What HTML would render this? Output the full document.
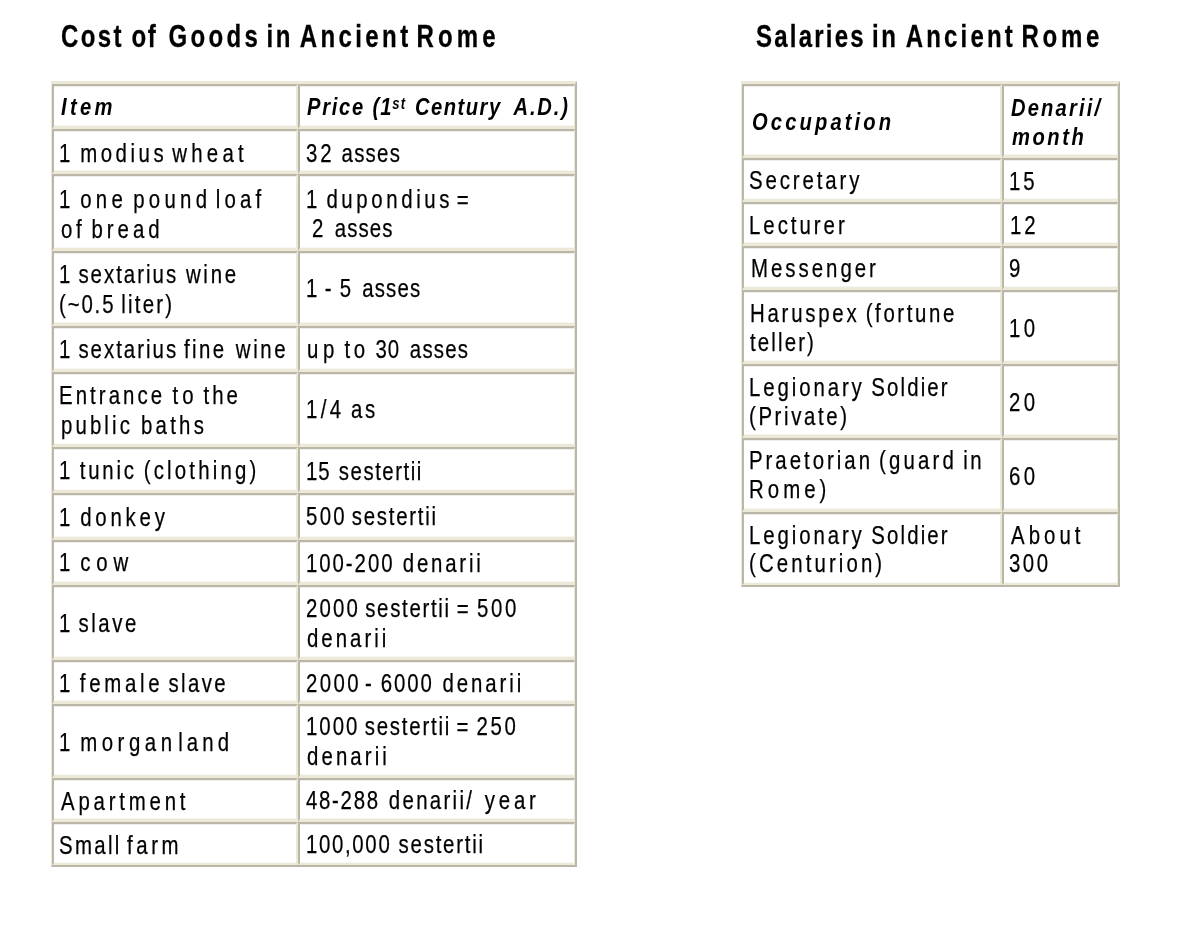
<!DOCTYPE html>
<html lang="en"><head><meta charset="utf-8"><title>Cost of Goods and Salaries in Ancient Rome</title>
<style>
html,body{margin:0;padding:0;background:#fff}
#page{position:relative;width:1193px;height:928px;overflow:hidden;background:#fff;color:#000;
  font-family:"Liberation Sans",Arial,Helvetica,sans-serif}
h1{margin:0;font-size:inherit;font-weight:inherit}
table.g{float:left;border-collapse:separate;border-spacing:0;table-layout:fixed;
  border-style:solid;border-color:#ECE9D8 #BAB6A8 #BAB6A8 #ECE9D8;border-top-width:3px;border-bottom-width:2px}
table.g td,table.g th{box-sizing:border-box;padding:0;border-style:solid;line-height:0;font-size:0;
  border-color:#BAB6A8 #ECE9D8 #ECE9D8 #BAB6A8;border-width:2px 2px 3px 2px;background:#fff;
  box-shadow:inset 0 -1px 0 #F8F7F1,inset 0 1px 0 #EFEEE9;text-align:left;font-weight:normal}
table.g tr.last td{border-bottom-width:2px}
.t{position:absolute;margin:0;white-space:nowrap;font-size:25.5px;line-height:30px;font-weight:normal;letter-spacing:0;
  transform:scaleX(0.8);transform-origin:0 0;-webkit-text-stroke:0.25px #000;filter:blur(0.35px)}
.t.h{font-size:24px;font-weight:bold;font-style:italic;transform:scaleX(0.84);-webkit-text-stroke:0}
.t.ttl{font-size:32px;line-height:36px;font-weight:bold;transform:scaleX(0.75);-webkit-text-stroke:0.3px #000}
.t sup{font-size:65%;vertical-align:baseline;position:relative;top:-0.37em;line-height:0}
</style></head>
<body><div id="page">
<h1><span class="t ttl" style="left:60.83px;top:17.91px"><span class="w" style="letter-spacing:3.16px">Cost</span> <span class="w" style="letter-spacing:2.17px;margin-left:1.38px">of</span> <span class="w" style="letter-spacing:4.48px;margin-left:5.84px">Goods</span> <span class="w" style="letter-spacing:3.47px;margin-left:-1.81px">in</span> <span class="w" style="letter-spacing:4.53px;margin-left:-0.05px">Ancient</span> <span class="w" style="letter-spacing:5.48px;margin-left:-2.32px">Rome</span></span></h1>
<h1><span class="t ttl" style="left:755.53px;top:17.91px"><span class="w" style="letter-spacing:2.95px">Salaries</span> <span class="w" style="letter-spacing:3.22px;margin-left:-0.54px">in</span> <span class="w" style="letter-spacing:4.24px;margin-left:1.15px">Ancient</span> <span class="w" style="letter-spacing:4.94px;margin-left:-1.49px">Rome</span></span></h1>
<table class="g" cellspacing="0" cellpadding="0" style="margin-left:51px;margin-top:81px;border-left-width:1px;border-right-width:2px">
<colgroup><col style="width:246px"><col style="width:277px"></colgroup>
<tr style="height:45px">
<th style="border-right-width:2px"><span class="t h" style="left:60.56px;top:91.68px"><span class="w" style="letter-spacing:3.98px">Item</span></span></th>
<th style="border-right-width:1px"><span class="t h" style="left:306.66px;top:91.68px"><span class="w" style="letter-spacing:2.02px">Price</span> <span class="w" style="letter-spacing:1.18px;margin-left:2.43px">(1<sup>st</sup></span> <span class="w" style="letter-spacing:1.79px;margin-left:3.94px">Century</span> <span class="w" style="letter-spacing:2.20px;margin-left:7.48px">A.D.)</span></span></th>
</tr>
<tr style="height:45px">
<td style="border-right-width:2px"><span class="t" style="left:59.35px;top:138.06px"><span class="w" style="letter-spacing:2.00px">1</span> <span class="w" style="letter-spacing:4.42px;margin-left:3.17px">modius</span> <span class="w" style="letter-spacing:5.29px;margin-left:-0.69px">wheat</span></span></td>
<td style="border-right-width:1px"><span class="t" style="left:305.83px;top:137.56px"><span class="w" style="letter-spacing:3.75px">32</span> <span class="w" style="letter-spacing:1.59px;margin-left:1.44px">asses</span></span></td>
</tr>
<tr style="height:77px">
<td style="border-right-width:2px"><span class="t" style="left:59.35px;top:183.56px"><span class="w" style="letter-spacing:2.00px">1</span> <span class="w" style="letter-spacing:5.39px;margin-left:3.21px">one</span> <span class="w" style="letter-spacing:5.33px;margin-left:0.52px">pound</span> <span class="w" style="letter-spacing:5.22px;margin-left:-1.40px">loaf</span></span><br><span class="t" style="left:60.65px;top:213.56px"><span class="w" style="letter-spacing:4.61px">of</span> <span class="w" style="letter-spacing:4.94px;margin-left:0.60px">bread</span></span></td>
<td style="border-right-width:1px"><span class="t" style="left:306.47px;top:183.56px"><span class="w" style="letter-spacing:2.00px">1</span> <span class="w" style="letter-spacing:4.53px;margin-left:2.21px">dupondius</span> <span class="w" style="letter-spacing:2.00px;margin-left:-2.51px">=</span></span><br><span class="t" style="left:311.99px;top:213.06px"><span class="w" style="letter-spacing:2.00px">2</span> <span class="w" style="letter-spacing:1.40px;margin-left:5.18px">asses</span></span></td>
</tr>
<tr style="height:75px">
<td style="border-right-width:2px"><span class="t" style="left:59.35px;top:258.56px"><span class="w" style="letter-spacing:2.00px">1</span> <span class="w" style="letter-spacing:2.51px;margin-left:0.97px">sextarius</span> <span class="w" style="letter-spacing:3.43px;margin-left:2.61px">wine</span></span><br><span class="t" style="left:59.24px;top:288.56px"><span class="w" style="letter-spacing:2.32px">(~0.5</span> <span class="w" style="letter-spacing:2.79px;margin-left:0.33px">liter)</span></span></td>
<td style="border-right-width:1px"><span class="t" style="left:306.47px;top:272.56px"><span class="w" style="letter-spacing:2.00px">1</span> <span class="w" style="letter-spacing:2.00px;margin-left:0.28px">-</span> <span class="w" style="letter-spacing:2.00px;margin-left:0.90px">5</span> <span class="w" style="letter-spacing:1.46px;margin-left:4.93px">asses</span></span></td>
</tr>
<tr style="height:46px">
<td style="border-right-width:2px"><span class="t" style="left:59.35px;top:334.06px"><span class="w" style="letter-spacing:2.00px">1</span> <span class="w" style="letter-spacing:2.51px;margin-left:0.97px">sextarius</span> <span class="w" style="letter-spacing:2.95px;margin-left:0.38px">fine</span> <span class="w" style="letter-spacing:3.31px;margin-left:4.59px">wine</span></span></td>
<td style="border-right-width:1px"><span class="t" style="left:306.71px;top:334.06px"><span class="w" style="letter-spacing:5.67px">up</span> <span class="w" style="letter-spacing:4.53px;margin-left:-0.08px">to</span> <span class="w" style="letter-spacing:1.31px;margin-left:1.36px">30</span> <span class="w" style="letter-spacing:1.53px;margin-left:4.93px">asses</span></span></td>
</tr>
<tr style="height:75px">
<td style="border-right-width:2px"><span class="t" style="left:58.84px;top:380.31px"><span class="w" style="letter-spacing:3.84px">Entrance</span> <span class="w" style="letter-spacing:5.03px;margin-left:1.94px">to</span> <span class="w" style="letter-spacing:3.84px;margin-left:0.33px">the</span></span><br><span class="t" style="left:60.91px;top:409.56px"><span class="w" style="letter-spacing:3.89px">public</span> <span class="w" style="letter-spacing:4.03px;margin-left:2.98px">baths</span></span></td>
<td style="border-right-width:1px"><span class="t" style="left:306.47px;top:394.31px"><span class="w" style="letter-spacing:4.17px">1/4</span> <span class="w" style="letter-spacing:3.30px;margin-left:1.30px">as</span></span></td>
</tr>
<tr style="height:46px">
<td style="border-right-width:2px"><span class="t" style="left:59.35px;top:455.31px"><span class="w" style="letter-spacing:2.00px">1</span> <span class="w" style="letter-spacing:3.49px;margin-left:2.65px">tunic</span> <span class="w" style="letter-spacing:3.99px;margin-left:1.56px">(clothing)</span></span></td>
<td style="border-right-width:1px"><span class="t" style="left:306.47px;top:455.56px"><span class="w" style="letter-spacing:1.25px">15</span> <span class="w" style="letter-spacing:1.92px;margin-left:3.05px">sestertii</span></span></td>
</tr>
<tr style="height:47px">
<td style="border-right-width:2px"><span class="t" style="left:59.35px;top:501.56px"><span class="w" style="letter-spacing:2.00px">1</span> <span class="w" style="letter-spacing:4.75px;margin-left:3.21px">donkey</span></span></td>
<td style="border-right-width:1px"><span class="t" style="left:306.09px;top:500.56px"><span class="w" style="letter-spacing:2.92px">500</span> <span class="w" style="letter-spacing:2.17px;margin-left:-1.18px">sestertii</span></span></td>
</tr>
<tr style="height:45px">
<td style="border-right-width:2px"><span class="t" style="left:59.35px;top:547.06px"><span class="w" style="letter-spacing:2.00px">1</span> <span class="w" style="letter-spacing:7.30px;margin-left:3.21px">cow</span></span></td>
<td style="border-right-width:1px"><span class="t" style="left:306.47px;top:547.56px"><span class="w" style="letter-spacing:2.43px">100-200</span> <span class="w" style="letter-spacing:3.48px;margin-left:3.31px">denarii</span></span></td>
</tr>
<tr style="height:75px">
<td style="border-right-width:2px"><span class="t" style="left:59.35px;top:607.56px"><span class="w" style="letter-spacing:2.00px">1</span> <span class="w" style="letter-spacing:3.25px;margin-left:0.97px">slave</span></span></td>
<td style="border-right-width:1px"><span class="t" style="left:305.89px;top:593.06px"><span class="w" style="letter-spacing:2.71px">2000</span> <span class="w" style="letter-spacing:2.14px;margin-left:-0.72px">sestertii</span> <span class="w" style="letter-spacing:2.00px;margin-left:0.21px">=</span> <span class="w" style="letter-spacing:3.29px;margin-left:1.33px">500</span></span><br><span class="t" style="left:306.95px;top:623.06px"><span class="w" style="letter-spacing:3.77px">denarii</span></span></td>
</tr>
<tr style="height:44px">
<td style="border-right-width:2px"><span class="t" style="left:59.35px;top:667.56px"><span class="w" style="letter-spacing:2.00px">1</span> <span class="w" style="letter-spacing:4.63px;margin-left:2.69px">female</span> <span class="w" style="letter-spacing:2.95px;margin-left:-0.55px">slave</span></span></td>
<td style="border-right-width:1px"><span class="t" style="left:305.89px;top:667.56px"><span class="w" style="letter-spacing:3.05px">2000</span> <span class="w" style="letter-spacing:2.00px;margin-left:-2.37px">-</span> <span class="w" style="letter-spacing:2.46px;margin-left:2.02px">6000</span> <span class="w" style="letter-spacing:3.64px;margin-left:3.79px">denarii</span></span></td>
</tr>
<tr style="height:74px">
<td style="border-right-width:2px"><span class="t" style="left:59.35px;top:726.56px"><span class="w" style="letter-spacing:2.00px">1</span> <span class="w" style="letter-spacing:5.68px;margin-left:3.17px">morgan</span> <span class="w" style="letter-spacing:5.13px;margin-left:-5.13px">land</span></span></td>
<td style="border-right-width:1px"><span class="t" style="left:306.47px;top:711.31px"><span class="w" style="letter-spacing:2.52px">1000</span> <span class="w" style="letter-spacing:2.23px;margin-left:-0.53px">sestertii</span> <span class="w" style="letter-spacing:2.00px;margin-left:-0.40px">=</span> <span class="w" style="letter-spacing:3.41px;margin-left:0.96px">250</span></span><br><span class="t" style="left:306.65px;top:740.81px"><span class="w" style="letter-spacing:3.87px">denarii</span></span></td>
</tr>
<tr style="height:44px">
<td style="border-right-width:2px"><span class="t" style="left:61.47px;top:785.56px"><span class="w" style="letter-spacing:4.74px">Apartment</span></span></td>
<td style="border-right-width:1px"><span class="t" style="left:306.47px;top:785.06px"><span class="w" style="letter-spacing:2.13px">48-288</span> <span class="w" style="letter-spacing:2.90px;margin-left:4.23px">denarii/</span> <span class="w" style="letter-spacing:4.74px;margin-left:6.10px">year</span></span></td>
</tr>
<tr class="last" style="height:43px">
<td style="border-right-width:2px"><span class="t" style="left:59.18px;top:829.56px"><span class="w" style="letter-spacing:2.89px">Small</span> <span class="w" style="letter-spacing:4.46px;margin-left:-0.29px">farm</span></span></td>
<td style="border-right-width:1px"><span class="t" style="left:306.47px;top:828.81px"><span class="w" style="letter-spacing:2.08px">100,000</span> <span class="w" style="letter-spacing:2.21px;margin-left:1.91px">sestertii</span></span></td>
</tr>
</table>
<table class="g" cellspacing="0" cellpadding="0" style="margin-left:164px;margin-top:81px;border-left-width:1px;border-right-width:2px">
<colgroup><col style="width:260px"><col style="width:116px"></colgroup>
<tr style="height:74px">
<th style="border-right-width:2px"><span class="t h" style="left:752.24px;top:106.68px"><span class="w" style="letter-spacing:3.73px">Occupation</span></span></th>
<th style="border-right-width:1px"><span class="t h" style="left:1010.91px;top:92.93px"><span class="w" style="letter-spacing:2.57px">Denarii/</span></span><br><span class="t h" style="left:1011.66px;top:121.68px"><span class="w" style="letter-spacing:3.01px">month</span></span></th>
</tr>
<tr style="height:44px">
<td style="border-right-width:2px"><span class="t" style="left:748.78px;top:165.31px"><span class="w" style="letter-spacing:3.62px">Secretary</span></span></td>
<td style="border-right-width:1px"><span class="t" style="left:1008.97px;top:166.06px"><span class="w" style="letter-spacing:3.67px">15</span></span></td>
</tr>
<tr style="height:44px">
<td style="border-right-width:2px"><span class="t" style="left:748.74px;top:209.56px"><span class="w" style="letter-spacing:3.72px">Lecturer</span></span></td>
<td style="border-right-width:1px"><span class="t" style="left:1009.72px;top:209.56px"><span class="w" style="letter-spacing:3.60px">12</span></span></td>
</tr>
<tr style="height:44px">
<td style="border-right-width:2px"><span class="t" style="left:750.84px;top:253.31px"><span class="w" style="letter-spacing:3.75px">Messenger</span></span></td>
<td style="border-right-width:1px"><span class="t" style="left:1009.07px;top:253.31px"><span class="w" style="letter-spacing:2.00px">9</span></span></td>
</tr>
<tr style="height:74px">
<td style="border-right-width:2px"><span class="t" style="left:749.64px;top:297.81px"><span class="w" style="letter-spacing:3.46px">Haruspex</span> <span class="w" style="letter-spacing:3.30px;margin-left:0.63px">(fortune</span></span><br><span class="t" style="left:749.90px;top:327.31px"><span class="w" style="letter-spacing:2.68px">teller)</span></span></td>
<td style="border-right-width:1px"><span class="t" style="left:1008.97px;top:312.81px"><span class="w" style="letter-spacing:4.22px">10</span></span></td>
</tr>
<tr style="height:74px">
<td style="border-right-width:2px"><span class="t" style="left:748.54px;top:371.56px"><span class="w" style="letter-spacing:3.62px">Legionary</span> <span class="w" style="letter-spacing:2.66px;margin-left:1.22px">Soldier</span></span><br><span class="t" style="left:748.94px;top:401.06px"><span class="w" style="letter-spacing:3.26px">(Private)</span></span></td>
<td style="border-right-width:1px"><span class="t" style="left:1008.99px;top:386.56px"><span class="w" style="letter-spacing:4.19px">20</span></span></td>
</tr>
<tr style="height:74px">
<td style="border-right-width:2px"><span class="t" style="left:748.54px;top:445.31px"><span class="w" style="letter-spacing:3.73px">Praetorian</span> <span class="w" style="letter-spacing:3.98px;margin-left:0.34px">(guard</span> <span class="w" style="letter-spacing:3.09px;margin-left:0.61px">in</span></span><br><span class="t" style="left:748.54px;top:474.31px"><span class="w" style="letter-spacing:5.04px">Rome)</span></span></td>
<td style="border-right-width:1px"><span class="t" style="left:1008.99px;top:461.06px"><span class="w" style="letter-spacing:4.19px">60</span></span></td>
</tr>
<tr class="last" style="height:73px">
<td style="border-right-width:2px"><span class="t" style="left:748.54px;top:519.56px"><span class="w" style="letter-spacing:3.62px">Legionary</span> <span class="w" style="letter-spacing:2.66px;margin-left:1.22px">Soldier</span></span><br><span class="t" style="left:748.94px;top:548.31px"><span class="w" style="letter-spacing:3.89px">(Centurion)</span></span></td>
<td style="border-right-width:1px"><span class="t" style="left:1011.22px;top:519.56px"><span class="w" style="letter-spacing:5.04px">About</span></span><br><span class="t" style="left:1009.23px;top:548.31px"><span class="w" style="letter-spacing:3.14px">300</span></span></td>
</tr>
</table>
</div></body></html>
